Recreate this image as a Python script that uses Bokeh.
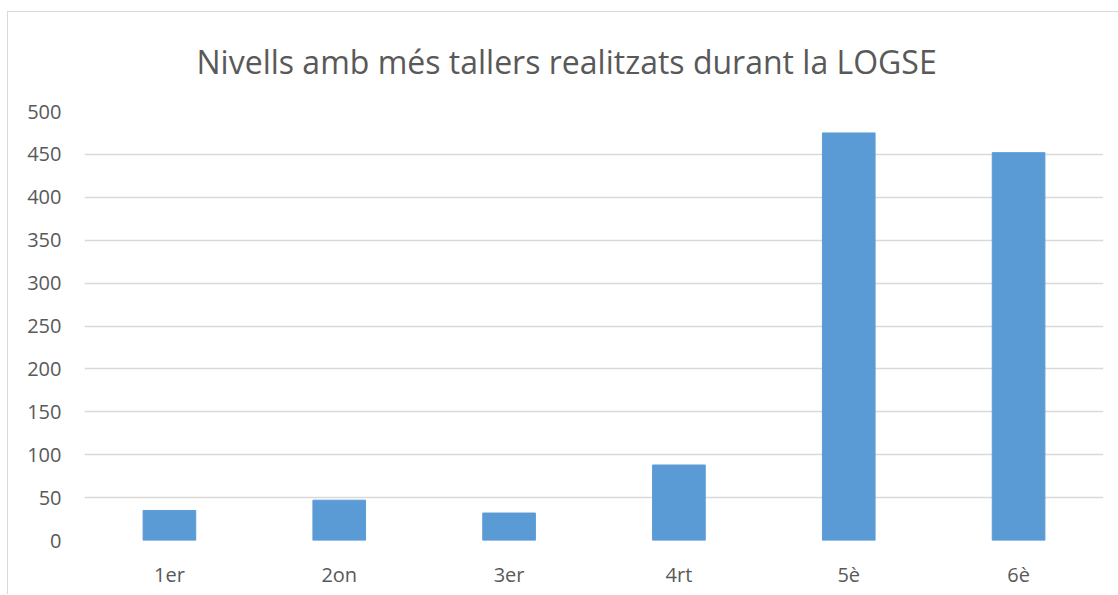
from bokeh.plotting import figure
from bokeh.models import FactorRange, Range1d, SingleIntervalTicker, Title
from bokeh.embed import file_html
from bokeh.resources import INLINE

categories = ["1er", "2on", "3er", "4rt", "5è", "6è"]
values = [35, 47, 32, 88, 475, 452]
title_text = "Nivells amb més tallers realitzats durant la LOGSE"

TEXT = "#595959"
GRID = "#d9d9d9"
BAR = "#5b9bd5"

p = figure(
    width=1111, height=583,
    x_range=FactorRange(*categories),
    y_range=Range1d(0, 500),
    output_backend="svg", toolbar_location=None,
    min_border_left=76, min_border_right=16, min_border_top=99, min_border_bottom=55,
)
p.x_range.range_padding = 0

p.vbar(x=categories, top=values, width=0.31, color=BAR, line_color=BAR)

t = Title(text=title_text, align="left", vertical_align="top", text_font="Open Sans",
          text_font_size="32px", text_color=TEXT, text_font_style="normal",
          standoff=54, offset=112)
p.add_layout(t, "above")

p.outline_line_color = None
p.xgrid.grid_line_color = None
p.ygrid.grid_line_color = GRID
p.ygrid.grid_line_width = 1.3

p.yaxis.ticker = SingleIntervalTicker(interval=50)
for ax in (p.xaxis, p.yaxis):
    ax.axis_line_color = None
    ax.major_tick_line_color = None
    ax.minor_tick_line_color = None
    ax.major_label_text_font = "Open Sans"
    ax.major_label_text_font_size = "20px"
    ax.major_label_text_color = TEXT
p.yaxis.major_label_standoff = 17
p.xaxis.major_label_standoff = 14

p.styles = {"border-top": "1px solid #d9d9d9", "border-left": "1px solid #d9d9d9",
            "margin-top": "11px", "margin-left": "7px"}

open("out.html", "w").write(file_html(p, INLINE))
